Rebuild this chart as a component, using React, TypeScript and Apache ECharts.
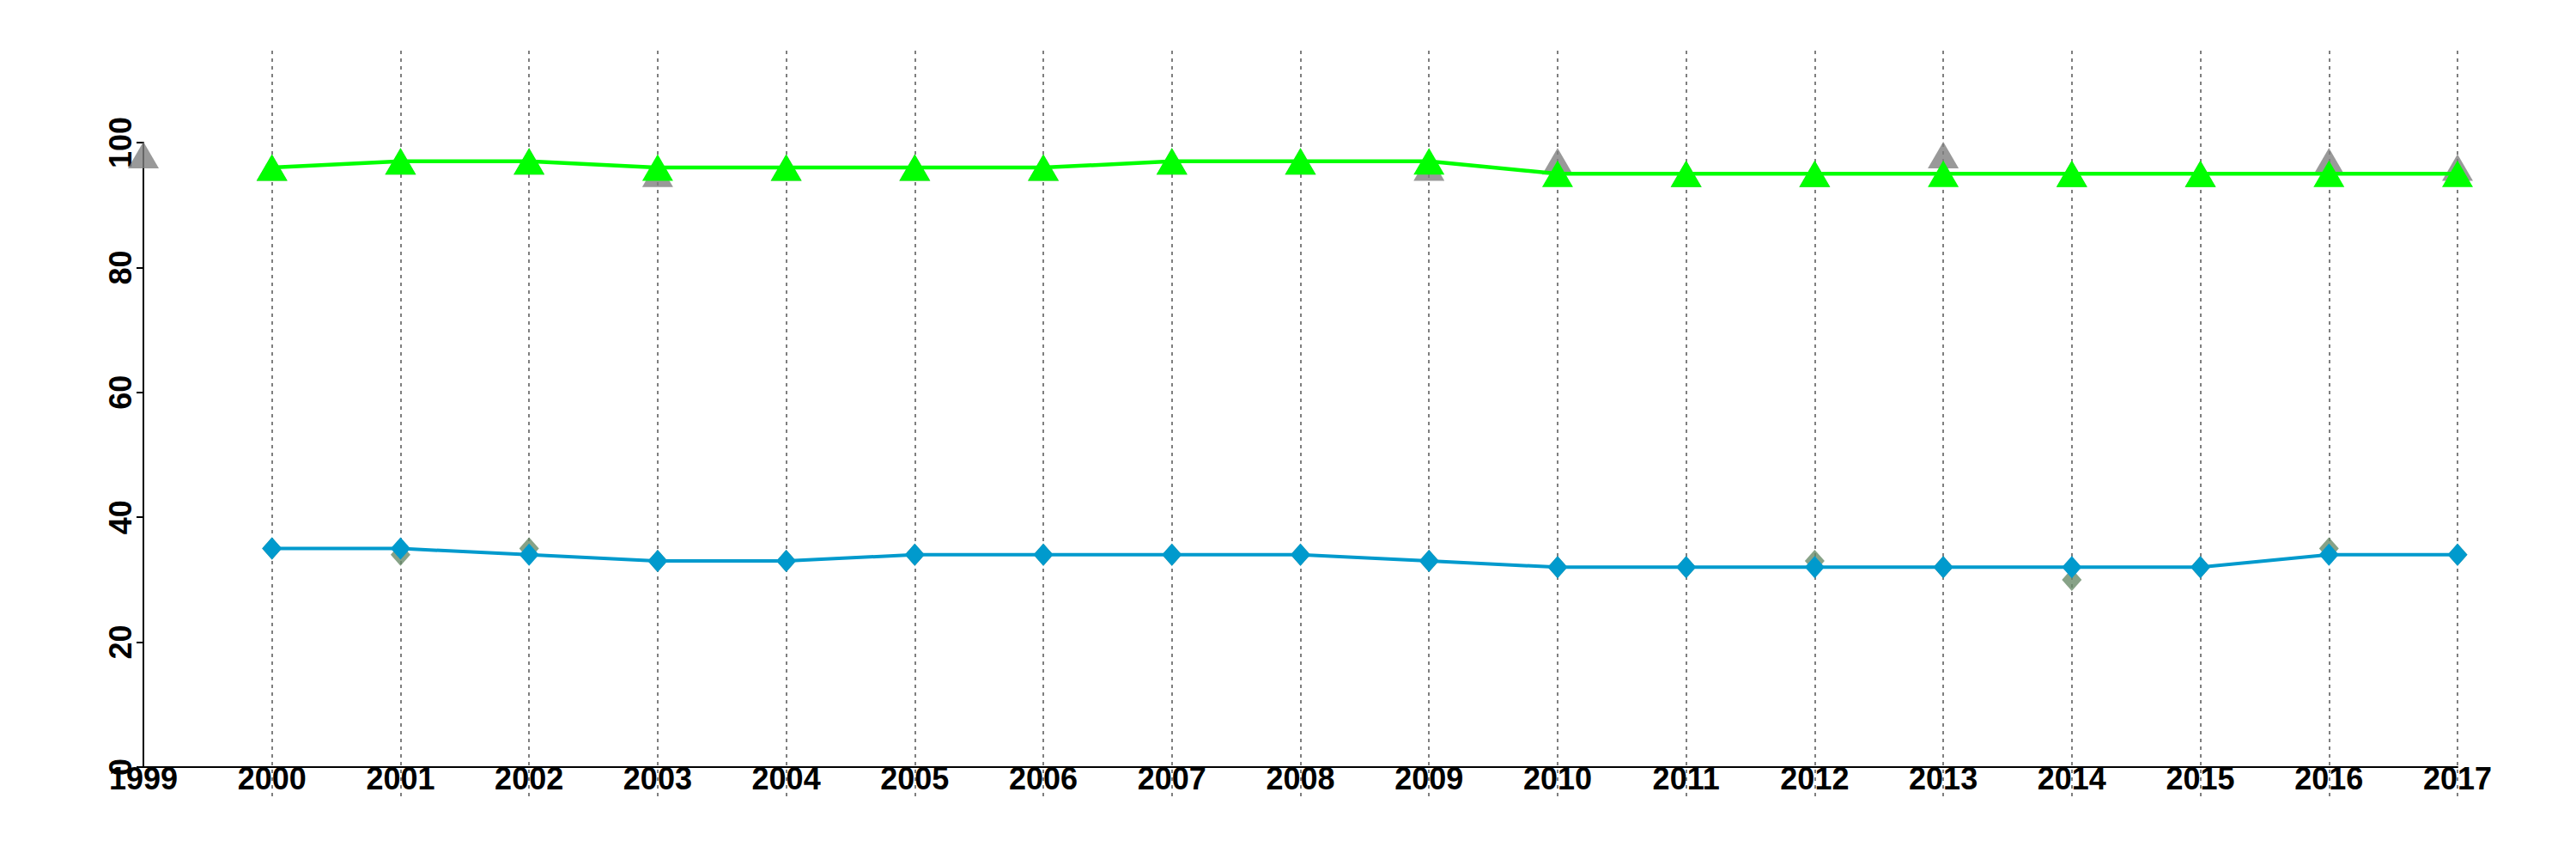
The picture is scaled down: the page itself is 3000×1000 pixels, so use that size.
import React, { useEffect, useRef } from "react";
import * as echarts from "echarts";

const years = ["1999","2000","2001","2002","2003","2004","2005","2006","2007","2008","2009","2010","2011","2012","2013","2014","2015","2016","2017"];
const grayTri = [98, 96, 97, 97, 95, 96, 96, 96, 97, 97, 96, 97, 95, 95, 98, 95, 95, 97, 96];
const greenTri = [null, 96, 97, 97, 96, 96, 96, 96, 97, 97, 97, 95, 95, 95, 95, 95, 95, 95, 95];
const oliveDia = [null, 35, 34, 35, 33, 33, 34, 34, 34, 34, 33, 32, 32, 33, 32, 30, 32, 35, 34];
const blueDia = [null, 35, 35, 34, 33, 33, 34, 34, 34, 34, 33, 32, 32, 32, 32, 32, 32, 34, 34];
const yTicks = { min: 0, max: 100, interval: 20 };

const FONT = "'Liberation Sans', Arial, sans-serif";

export default function App() {
  const ref = useRef<HTMLDivElement>(null);
  useEffect(() => {
    const chart = echarts.init(ref.current!, null, { renderer: "svg" });
    const gridL = 167, gridR = 138;
    chart.setOption({
      animation: false,
      backgroundColor: "#ffffff",
      grid: [
        { left: gridL, right: gridR, top: 166, bottom: 107 },
        { left: gridL, right: gridR, top: 59, bottom: 73 },
      ],
      xAxis: [
        {
          type: "category",
          gridIndex: 0,
          data: years,
          boundaryGap: false,
          axisLine: { show: true, lineStyle: { color: "#000", width: 2 } },
          axisTick: { show: false },
          axisLabel: {
            color: "#000",
            fontFamily: FONT,
            fontWeight: "bold",
            fontSize: 36,
            margin: -5,
            interval: 0,
          },
          splitLine: { show: false },
          z: 3,
        },
        {
          type: "category",
          gridIndex: 1,
          data: years,
          boundaryGap: false,
          axisLine: { show: false },
          axisTick: { show: false },
          axisLabel: { show: false },
          splitLine: {
            show: true,
            interval: (idx: number) => idx !== 0,
            lineStyle: { color: "#7f7f7f", width: 2, type: [4, 5] },
          },
        },
      ],
      yAxis: [
        {
          type: "value",
          gridIndex: 0,
          min: yTicks.min,
          max: yTicks.max,
          interval: yTicks.interval,
          axisLine: { show: true, lineStyle: { color: "#000", width: 2 } },
          axisTick: { show: true, length: 8, lineStyle: { color: "#000", width: 2 } },
          axisLabel: {
            color: "#000",
            fontFamily: FONT,
            fontWeight: "bold",
            fontSize: 36,
            rotate: 90,
            margin: 9,
          },
          splitLine: { show: false },
          z: 3,
        },
        {
          type: "value",
          gridIndex: 1,
          min: 0,
          max: 100,
          show: false,
        },
      ],
      series: [
        {
          type: "scatter",
          data: grayTri,
          symbol: "triangle",
          symbolSize: [36, 31],
          itemStyle: { color: "#7f7f7f" },
          clip: false,
          z: 4,
        },
        {
          type: "line",
          data: greenTri,
          symbol: "triangle",
          symbolSize: [36, 31],
          showAllSymbol: true,
          lineStyle: { color: "#00ff00", width: 4.5 },
          itemStyle: { color: "#00ff00" },
          clip: false,
          z: 5,
        },
        {
          type: "scatter",
          data: oliveDia,
          symbol: "diamond",
          symbolSize: [23, 26],
          itemStyle: { color: "#698b69" },
          clip: false,
          z: 4,
        },
        {
          type: "line",
          data: blueDia,
          symbol: "diamond",
          symbolSize: [23, 26],
          showAllSymbol: true,
          lineStyle: { color: "#009acd", width: 4 },
          itemStyle: { color: "#009acd" },
          clip: false,
          z: 5,
        },
      ],
    });
    return () => chart.dispose();
  }, []);
  return (
    <div
      ref={ref}
      style={{ position: "fixed", left: 0, top: 0, width: 3000, height: 1000 }}
    />
  );
}
